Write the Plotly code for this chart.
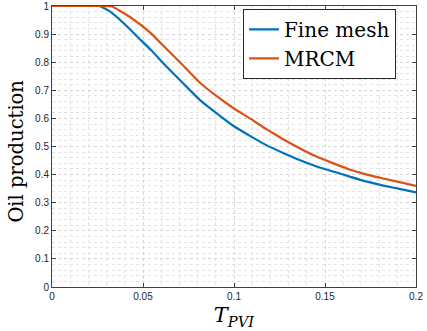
import plotly.graph_objects as go

# values
t_fine = [0, 0.010, 0.020, 0.026, 0.032, 0.040, 0.047, 0.054, 0.063, 0.072, 0.081, 0.0905,
          0.100, 0.109, 0.118, 0.127, 0.136, 0.145, 0.155, 0.164, 0.173, 0.182, 0.191, 0.200]
oil_fine = [1, 1, 1, 1, 0.980, 0.935, 0.890, 0.846, 0.784, 0.725, 0.667, 0.618,
            0.572, 0.537, 0.504, 0.477, 0.452, 0.430, 0.410, 0.392, 0.375, 0.361, 0.349, 0.337]

t_mrcm = [0, 0.010, 0.020, 0.028, 0.033, 0.043, 0.054, 0.062, 0.0703, 0.0813, 0.0905, 0.0996,
          0.109, 0.118, 0.127, 0.136, 0.145, 0.155, 0.164, 0.173, 0.182, 0.191, 0.200]
oil_mrcm = [1, 1, 1, 1, 0.998, 0.960, 0.905, 0.853, 0.800, 0.727, 0.679, 0.637,
            0.599, 0.561, 0.526, 0.494, 0.465, 0.439, 0.417, 0.400, 0.386, 0.373, 0.360]

x_ticks = [0, 0.05, 0.1, 0.15, 0.2]
y_ticks = [0, 0.1, 0.2, 0.3, 0.4, 0.5, 0.6, 0.7, 0.8, 0.9, 1]

fig = go.Figure()
fig.add_trace(go.Scatter(x=t_fine, y=oil_fine, mode="lines", name="Fine mesh",
                         line=dict(color="#0072BD", width=2.2, shape="spline", smoothing=0.4)))
fig.add_trace(go.Scatter(x=t_mrcm, y=oil_mrcm, mode="lines", name="MRCM",
                         line=dict(color="#D95319", width=2.2, shape="spline", smoothing=0.4)))

axis_common = dict(
    showline=True, linecolor="#404040", linewidth=1, mirror="ticks",
    ticks="inside", ticklen=4, tickcolor="#404040",
    showgrid=True, gridcolor="#d6d6d6", griddash="dot", gridwidth=1,
    zeroline=False, automargin=False,
    tickfont=dict(family="Liberation Sans, Arial", size=10, color="#262626"),
)

fig.update_xaxes(
    range=[0, 0.2], tickvals=x_ticks, ticktext=[str(v) for v in x_ticks],
    minor=dict(dtick=0.01, showgrid=True, gridcolor="#e4e4e4", griddash="dot"),
    title=dict(text="<i>T</i><sub><i>PVI</i></sub>", standoff=6,
               font=dict(family="DejaVu Serif", size=21, color="#000")),
    **axis_common,
)
fig.update_yaxes(
    range=[0, 1], tickvals=y_ticks, ticktext=[f"{v:g}" for v in y_ticks],
    minor=dict(dtick=0.02, showgrid=True, gridcolor="#e4e4e4", griddash="dot"),
    **axis_common,
)

# y label as annotation so it sits where MATLAB put it
fig.add_annotation(text="Oil production", xref="paper", yref="paper",
                   x=-0.096, y=0.482, xanchor="center", yanchor="middle",
                   textangle=-90, showarrow=False,
                   font=dict(family="DejaVu Serif", size=19.5, color="#000"))

fig.update_layout(
    width=427, height=331,
    margin=dict(l=52, r=11, t=6, b=44),
    plot_bgcolor="white", paper_bgcolor="white",
    showlegend=True,
    legend=dict(x=0.945, y=0.99, xanchor="right", yanchor="top",
                bgcolor="white", bordercolor="#262626", borderwidth=1,
                font=dict(family="DejaVu Serif", size=20, color="#000"),
                tracegroupgap=0, itemwidth=30),
)

fig.write_html("out.html", config={"displayModeBar": False},
               post_script="document.body.style.margin='0';")
